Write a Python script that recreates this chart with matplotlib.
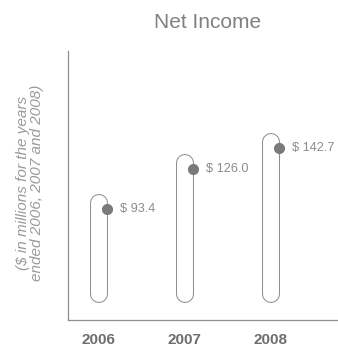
import matplotlib.pyplot as plt
import numpy as np

# chart data
years = ['2006', '2007', '2008']
net_income = [93.4, 126.0, 142.7]
value_labels = ['$ 93.4', '$ 126.0', '$ 142.7']

capsule_bottom = 23.7   # where the rounded bars end at the bottom
capsule_over = 5.0      # how far the rounded top sits above the dot

line_grey = '#8a8a8a'
text_grey = '#8c8c8c'

fig = plt.figure(figsize=(3.38, 3.46), dpi=100)
ax = fig.add_axes([68 / 338, 26 / 346, 270 / 338, 269 / 346])

x = np.arange(len(years))

# capsules: thick grey line with round caps, then white on top -> outline only
for xi, val in zip(x, net_income):
    ax.plot([xi, xi], [capsule_bottom, val + capsule_over], color=line_grey,
            lw=12.9, solid_capstyle='round', zorder=2)
    ax.plot([xi, xi], [capsule_bottom, val + capsule_over], color='white',
            lw=11.5, solid_capstyle='round', zorder=3)

# dots sit on the right edge of each capsule
dot_dx = 0.099
ax.plot(x + dot_dx, net_income, 'o', color='#7a7a7a', ms=7, zorder=4)

for xi, val, lab in zip(x, net_income, value_labels):
    ax.text(xi + 0.245, val, lab, ha='left', va='center', fontsize=9.2,
            color=text_grey, family='Liberation Sans')

ax.set_xlim(-0.355, 2.785)
ax.set_ylim(2.9, 222)

# axes styling
for s in ['top', 'right']:
    ax.spines[s].set_visible(False)
for s in ['left', 'bottom']:
    ax.spines[s].set_color('#8f8f8f')
    ax.spines[s].set_linewidth(0.9)

ax.set_yticks([])
ax.set_xticks(x)
ax.set_xticklabels(years, fontsize=11, fontweight='bold', color='#6e6e6e',
                   family='Liberation Sans')
ax.tick_params(axis='x', length=0, pad=9)

fig.text(207.5 / 338, 1 - 22.5 / 346, 'Net Income', ha='center', va='center',
         fontsize=15, color='#808080', family='Liberation Sans')

fig.text(30 / 338, 1 - 183 / 346,
         '($ in millions for the years\nended 2006, 2007 and 2008)',
         rotation=90, ha='center', va='center', multialignment='center',
         fontsize=11, style='italic', color='#9a9a9a', family='Liberation Sans',
         linespacing=1.05)

fig.savefig('out.png', dpi=100)
